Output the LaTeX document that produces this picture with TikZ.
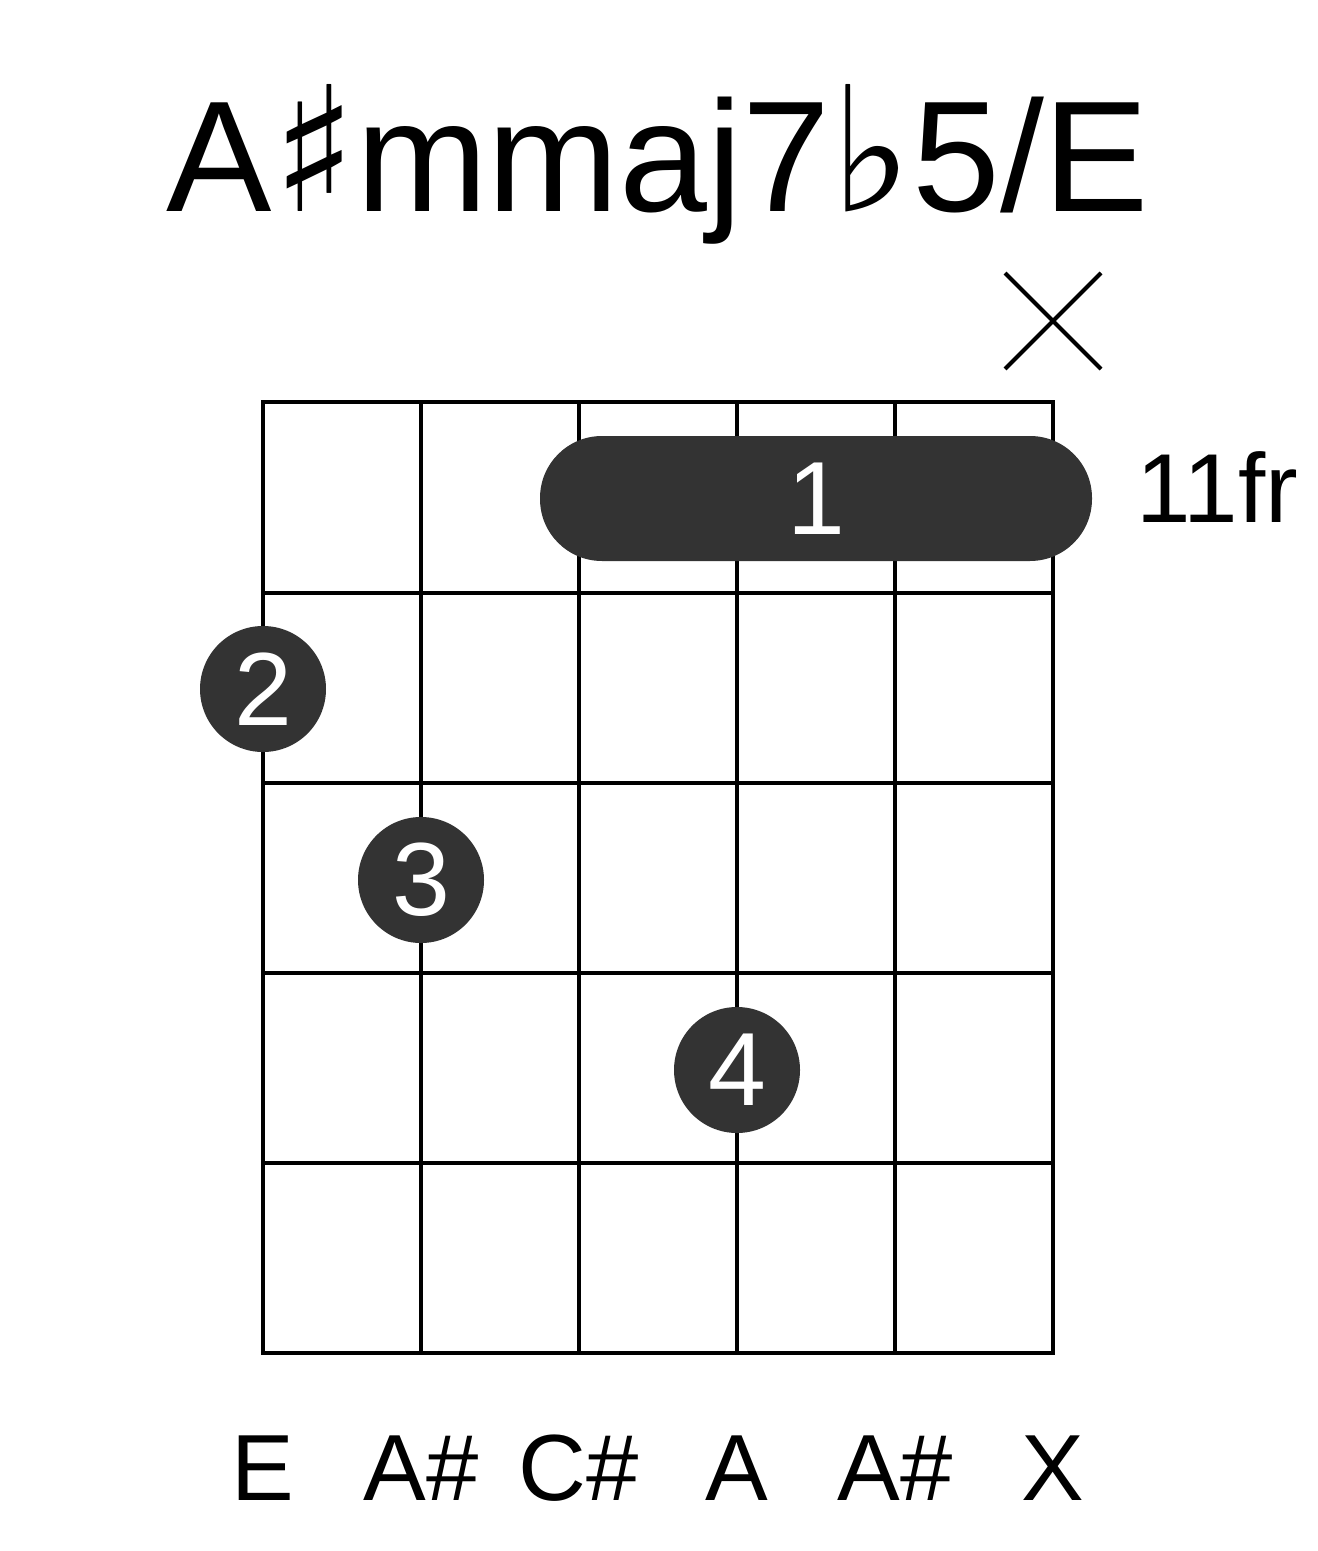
\documentclass[tikz,border=0pt]{standalone}
\usepackage{fontspec}
\setmainfont{Liberation Sans}
\newfontfamily\symfont[Scale=1.1]{DejaVu Sans}
\usepackage{tikz}
\usepackage{xcolor}
\definecolor{dotgray}{HTML}{333333}

\begin{document}
\begin{tikzpicture}[x=0.5pt,y=-0.5pt,line cap=butt,
  fretline/.style={black,line width=2pt},
  finger/.style={circle,fill=dotgray,minimum size=63pt,inner sep=0pt,text=white,font=\fontsize{52}{52}\selectfont},
  notelabel/.style={anchor=base,font=\fontsize{47}{47}\selectfont}]
\useasboundingbox (0,0) rectangle (1317,1551);
\node[anchor=base,font=\fontsize{79}{79}\selectfont,inner sep=0pt] (title) at (658,212) {A{\symfont ♯}mmaj7{\symfont ♭}5/E};
% strings
\draw[fretline] (263,402) -- (263,1353);
\draw[fretline] (421,402) -- (421,1353);
\draw[fretline] (579,402) -- (579,1353);
\draw[fretline] (737,402) -- (737,1353);
\draw[fretline] (895,402) -- (895,1353);
\draw[fretline] (1053,402) -- (1053,1353);
% frets
\draw[fretline,line cap=rect] (263,402) -- (1053,402);
\draw[fretline] (263,593) -- (1053,593);
\draw[fretline] (263,783) -- (1053,783);
\draw[fretline] (263,973) -- (1053,973);
\draw[fretline] (263,1163) -- (1053,1163);
\draw[fretline,line cap=rect] (263,1353) -- (1053,1353);
% muted string
\coordinate (mute) at (1053,321);
\draw[black,line width=2pt] ([shift={(-48,-48)}]mute) -- ([shift={(48,48)}]mute);
\draw[black,line width=2pt] ([shift={(-48,48)}]mute) -- ([shift={(48,-48)}]mute);
% barre and fingers
\fill[dotgray,rounded corners=31pt] (540,436) rectangle (1092,561);
\node[text=white,font=\fontsize{52}{52}\selectfont] (barre) at (816,498.5) {1};
\node[anchor=base west,font=\fontsize{49}{49}\selectfont,inner sep=0pt] (fretno) at (1136,522) {11fr};
\node[finger] (dot2) at (263,689) {2};
\node[finger] (dot3) at (421,880) {3};
\node[finger] (dot4) at (737,1070) {4};
% notes
\node[notelabel] (n1) at (263,1500) {E};
\node[notelabel] (n2) at (421,1500) {A\#};
\node[notelabel] (n3) at (579,1500) {C\#};
\node[notelabel] (n4) at (737,1500) {A};
\node[notelabel] (n5) at (895,1500) {A\#};
\node[notelabel] (n6) at (1053,1500) {X};
\end{tikzpicture}
\end{document}
